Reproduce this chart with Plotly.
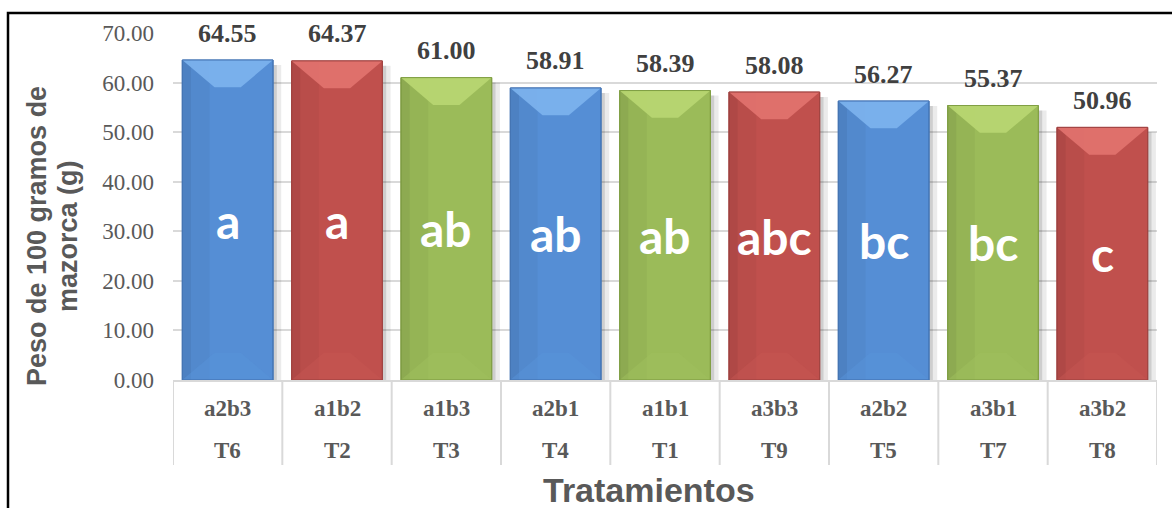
import plotly.graph_objects as go

combos = ["a2b3", "a1b2", "a1b3", "a2b1", "a1b1", "a3b3", "a2b2", "a3b1", "a3b2"]
treatments = ["T6", "T2", "T3", "T4", "T1", "T9", "T5", "T7", "T8"]
values = [64.55, 64.37, 61.00, 58.91, 58.39, 58.08, 56.27, 55.37, 50.96]
letters = ["a", "a", "ab", "ab", "ab", "abc", "bc", "bc", "c"]
color_keys = ["blue", "red", "green", "blue", "green", "red", "blue", "green", "red"]
yticks = [0, 10, 20, 30, 40, 50, 60, 70]
y_title_lines = ["Peso de 100 gramos de", "mazorca (g)"]
x_title = "Tratamientos"

palette = {
    "blue": dict(base="#558ED5", top="#7DB4EE", bottom="#5893DA", edge="#4474B4"),
    "red": dict(base="#C0504D", top="#E2736F", bottom="#C55552", edge="#A04341"),
    "green": dict(base="#9BBB59", top="#B9D772", bottom="#9FBF5D", edge="#819F45"),
}

W = 1172
H = 508
L, R, T, B = 173, 15, 33, 128
plot_h = H - T - B
plot_w = W - L - R

xs = list(range(len(values)))
hw = 0.415  # half bar width
bevel_depth = 5.5
bevel_half = 0.12


def py(pix):
    """pixel row -> paper y"""
    return (H - B - pix) / plot_h


def px(pix):
    """pixel column -> paper x"""
    return (pix - L) / plot_w


fig = go.Figure()
fig.add_trace(go.Bar(
    x=xs, y=values,
    marker=dict(color=[palette[c]["base"] for c in color_keys],
                line=dict(color=[palette[c]["edge"] for c in color_keys], width=1)),
    width=2 * hw,
    hoverinfo="skip",
))

shapes = []
for i, (v, c) in enumerate(zip(values, color_keys)):
    p = palette[c]
    shapes.append(dict(type="rect", xref="x", yref="y", x0=i + hw, x1=i + hw + 0.075,
                       y0=0, y1=v - 1.0, fillcolor="rgba(0,0,0,0.08)", line_width=0,
                       layer="between"))
    shapes.append(dict(type="rect", xref="x", yref="y", x0=i + hw, x1=i + hw + 0.035,
                       y0=0, y1=v - 1.0, fillcolor="rgba(0,0,0,0.12)", line_width=0,
                       layer="between"))
    shapes.append(dict(type="rect", xref="x", yref="y", x0=i - hw, x1=i - hw + 0.08,
                       y0=0, y1=v, fillcolor="rgba(0,0,0,0.05)", line_width=0, layer="above"))
    shapes.append(dict(type="rect", xref="x", yref="y", x0=i - hw, x1=i - hw + 0.25,
                       y0=0, y1=v, fillcolor="rgba(0,0,0,0.035)", line_width=0, layer="above"))
    shapes.append(dict(type="path", xref="x", yref="y", layer="above",
                       path=f"M {i-hw},{v} L {i+hw},{v} L {i+bevel_half},{v-bevel_depth} L {i-bevel_half},{v-bevel_depth} Z",
                       fillcolor=p["top"], line_width=0, opacity=0.9))
    shapes.append(dict(type="path", xref="x", yref="y", layer="above",
                       path=f"M {i-hw},0 L {i+hw},0 L {i+bevel_half},{bevel_depth} L {i-bevel_half},{bevel_depth} Z",
                       fillcolor=p["bottom"], line_width=0, opacity=0.5))
    shapes.append(dict(type="rect", xref="x", yref="y", x0=i - hw, x1=i + hw, y0=0, y1=v,
                       line=dict(color=p["edge"], width=1), fillcolor="rgba(0,0,0,0)", layer="above"))

for k in range(len(values) + 1):
    shapes.append(dict(type="line", xref="x", yref="paper", x0=k - 0.5, x1=k - 0.5,
                       y0=0, y1=py(465), line=dict(color="#D9D9D9", width=2)))

shapes.append(dict(type="rect", xref="paper", yref="paper",
                   x0=px(8), x1=px(W + 20), y0=py(H + 20), y1=py(13),
                   line=dict(color="black", width=2.5), fillcolor="rgba(0,0,0,0)"))

annotations = []
for i, (v, lab) in enumerate(zip(values, letters)):
    annotations.append(dict(x=i, y=v, xref="x", yref="y", text=f"{v:.2f}", showarrow=False,
                            yanchor="middle", yshift=27,
                            font=dict(family="Liberation Serif", size=26, color="#404040", weight="bold")))
    annotations.append(dict(x=i, y=v / 2, xref="x", yref="y", text=lab, showarrow=False,
                            yanchor="middle",
                            font=dict(family="Lato", size=48, color="white", weight="bold")))
for i, (cb, tr) in enumerate(zip(combos, treatments)):
    annotations.append(dict(x=i, y=py(408), xref="x", yref="paper", text=cb,
                            showarrow=False, yanchor="middle",
                            font=dict(family="Liberation Serif", size=23, color="#595959", weight="bold")))
    annotations.append(dict(x=i, y=py(450), xref="x", yref="paper", text=tr,
                            showarrow=False, yanchor="middle",
                            font=dict(family="Liberation Serif", size=23, color="#595959", weight="bold")))

annotations.append(dict(x=px(649), y=py(490), xref="paper", yref="paper",
                        text=x_title, showarrow=False, yanchor="middle",
                        font=dict(family="Liberation Sans", size=34, color="#595959", weight="bold")))
for line_text, cx in zip(y_title_lines, [37, 68]):
    annotations.append(dict(x=px(cx), y=py(236), xref="paper", yref="paper",
                            text=line_text, textangle=-90,
                            showarrow=False, xanchor="center", yanchor="middle",
                            font=dict(family="Liberation Sans", size=27, color="#595959", weight="bold")))

fig.update_layout(
    width=W, height=H,
    margin=dict(l=L, r=R, t=T, b=B),
    paper_bgcolor="white", plot_bgcolor="white",
    showlegend=False,
    shapes=shapes,
    annotations=annotations,
    xaxis=dict(range=[-0.5, len(values) - 0.5], showticklabels=False, showgrid=False,
               zeroline=False, showline=True, linecolor="#D9D9D9", linewidth=2,
               tickvals=xs, ticks=""),
    yaxis=dict(range=[0, 70], tickvals=yticks, ticktext=[f"{t:.2f}" for t in yticks],
               showgrid=True, gridcolor="#D9D9D9", gridwidth=1.5, zeroline=False,
               showline=False, ticks="", ticklabelstandoff=18,
               tickfont=dict(family="Liberation Serif", size=23, color="#595959")),
)

fig.write_html("out.html", config={"displayModeBar": False},
               post_script="document.body.style.margin='0';document.body.style.overflow='hidden';")
